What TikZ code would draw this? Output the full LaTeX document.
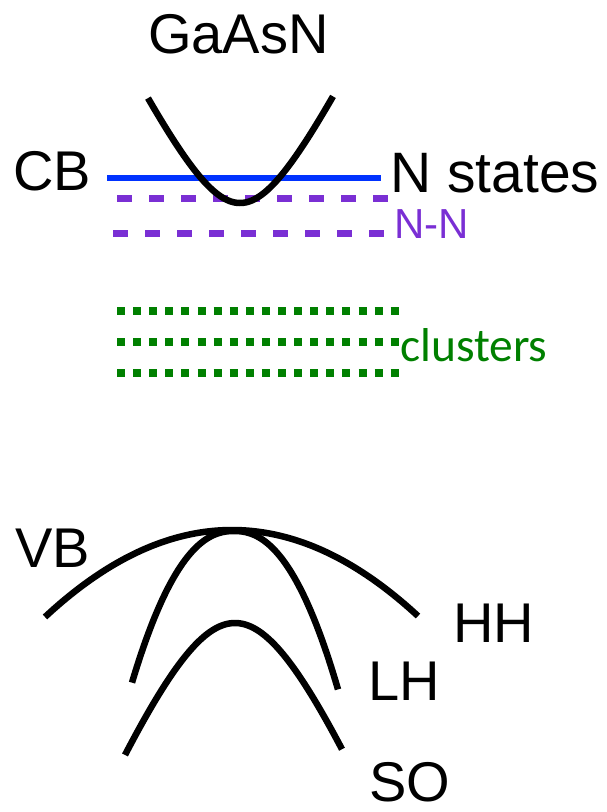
\documentclass[tikz,border=0pt]{standalone}
\usepackage{fontspec}
\setmainfont{Liberation Sans}
\newfontfamily\calib{Carlito}
\definecolor{cbblue}{RGB}{0,50,255}
\definecolor{nnpurple}{RGB}{122,47,212}
\definecolor{clgreen}{RGB}{0,128,0}
\begin{document}
\begin{tikzpicture}[x=1pt,y=-1pt,
  band/.style={line width=6.5pt,line cap=butt,line join=round},
  lbl/.style={inner sep=0pt,anchor=base west,font=\fontsize{56}{60}\selectfont},
  nnline/.style={nnpurple,line width=7pt,dash pattern=on 15pt off 17pt},
  clline/.style={clgreen,line width=7.5pt,dash pattern=on 8pt off 8.1pt}]
\useasboundingbox (0,0) rectangle (606,812);

% labels
\node[lbl] (gaasn) at (148,53) {GaAsN};
\node[lbl] (cb) at (13,190) {CB};
\node[lbl,font=\fontsize{57}{60}\selectfont] (nstates) at (390,192) {N states};
\node[lbl,nnpurple,font=\fontsize{42}{46}\selectfont] (nn) at (394,238) {N-N};
\node[lbl,clgreen,font=\calib\fontsize{47.5}{52}\selectfont] (clusters) at (400,361) {clusters};
\node[lbl] (vb) at (15,567) {VB};
\node[lbl] (hh) at (453,642) {HH};
\node[lbl] (lh) at (368,700) {LH};
\node[lbl,text depth=0pt] (so) at (369,801) {SO};

% conduction band edge and nitrogen levels
\draw[cbblue,line width=6pt] (107,178) -- (381,178);
\draw[nnline] (117,198) -- (389,198);
\draw[nnline] (113,233) -- (386,233);
\draw[clline] (117,311) -- (399,311);
\draw[clline] (117,342) -- (399,342);
\draw[clline] (117,373) -- (399,373);

% conduction band dispersion (hyperbolic)
\draw[band] plot[domain=-92:93,samples=90] ({240+\x},{203-110.55*(sqrt((\x/55)^2+1)-1)});

% valence bands: heavy hole, light hole, split-off
\draw[band] plot[domain=45:418,samples=90] (\x,{530+0.00249*(\x-232)*(\x-232)});
\draw[band] plot[domain=-102:104,samples=90] ({234+\x},{531+145*pow(abs(\x)/100+0.0001,2.25)});
\draw[band] plot[domain=-110:107,samples=90] ({235+\x},{623+196*(sqrt((\x/82)^2+1)-1)});
\end{tikzpicture}
\end{document}
